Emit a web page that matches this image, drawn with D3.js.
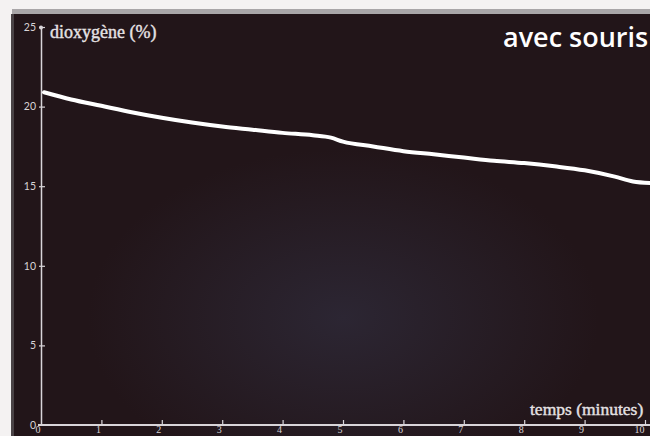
<!DOCTYPE html>
<html><head><meta charset="utf-8">
<script src="https://cdn.jsdelivr.net/npm/d3@7"></script>
<style>html,body{margin:0;padding:0;background:#f4f2f2;overflow:hidden}</style>
</head><body>
<svg id="c" width="650" height="436"></svg>
<script>
const times = [0.05,0.5,1,1.5,2,2.5,3,3.5,4,4.5,4.8,5,5.5,6,6.5,7,7.5,8,8.5,9,9.5,9.8,10.1];
const oxygen = [20.9,20.45,20.05,19.65,19.3,19.0,18.75,18.55,18.35,18.2,18.05,17.8,17.5,17.2,17.0,16.8,16.6,16.45,16.25,16.0,15.6,15.3,15.2];
const xTicks = [0,1,2,3,4,5,6,7,8,9,10];
const yTicks = [0,5,10,15,20,25];
const yTitle = "dioxygène (%)";
const xTitle = "temps (minutes)";
const chartTitle = "avec souris";

const svg = d3.select("#c");
const defs = svg.append("defs");
const rg = defs.append("radialGradient").attr("id","glow").attr("cx","0.52").attr("cy","0.72").attr("r","0.4");
rg.append("stop").attr("offset","0%").attr("stop-color","#2c2633");
rg.append("stop").attr("offset","100%").attr("stop-color","#221519");

// paper edges
svg.append("rect").attr("x",0).attr("y",0).attr("width",650).attr("height",436).attr("fill","#f4f2f2");
svg.append("rect").attr("x",12).attr("y",9).attr("width",638).attr("height",6).attr("fill","#a9a6a8");
svg.append("rect").attr("x",11).attr("y",14).attr("width",639).attr("height",422).attr("fill","url(#glow)");
svg.append("rect").attr("x",11).attr("y",14).attr("width",3).attr("height",422).attr("fill","#4a4346");

const x = d3.scaleLinear().domain([0,10]).range([41,645]);
const y = d3.scaleLinear().domain([0,25]).range([425,27]);
const axisCol = "#d9d5d9";

// y axis
const gy = svg.append("g").attr("transform","translate(41,0)")
  .call(d3.axisLeft(y).tickValues(yTicks).tickSize(0).tickPadding(5));
gy.select(".domain").attr("stroke",axisCol).attr("stroke-width",1.5);
gy.selectAll("text").attr("fill","#d8d4d6").attr("font-family","Lato, 'Open Sans', sans-serif").attr("font-size",10.5);
gy.selectAll(".tick").filter(d=>d>0).append("line").attr("x1",-2).attr("x2",4).attr("stroke",axisCol).attr("stroke-width",1.2);
gy.selectAll(".tick").filter(d=>d===25).append("circle").attr("r",2).attr("fill",axisCol);

// x axis
const gx = svg.append("g").attr("transform","translate(0,425)")
  .call(d3.axisBottom(x).tickValues(xTicks).tickSize(0));
gx.select(".domain").attr("stroke",axisCol).attr("stroke-width",1.8).attr("d","M38,0H650");
gx.selectAll(".tick").filter(d=>d>0).append("line").attr("y1",0).attr("y2",-5).attr("stroke",axisCol).attr("stroke-width",1.2);
gx.selectAll("text").attr("fill","#d8d4d6").attr("font-family","'Liberation Serif', serif").attr("font-size",10)
  .attr("text-anchor","end").attr("x",-1).attr("y",1).attr("dy","0.71em");

// line
const line = d3.line().x((d,i)=>x(times[i])).y(d=>y(d)).curve(d3.curveMonotoneX);
svg.append("path").datum(oxygen).attr("d",line).attr("fill","none").attr("stroke","#ffffff").attr("stroke-width",4).attr("stroke-linecap","round");

// texts
svg.append("text").attr("x",50).attr("y",38).text(yTitle)
  .attr("fill","#e6e2e4").attr("font-family","'Liberation Serif', serif").attr("font-size",18)
  .attr("stroke","#e6e2e4").attr("stroke-width",0.4);
svg.append("text").attr("x",530).attr("y",415).text(xTitle)
  .attr("fill","#e6e2e4").attr("font-family","'Liberation Serif', serif").attr("font-size",17.5)
  .attr("stroke","#e6e2e4").attr("stroke-width",0.4);
svg.append("text").attr("x",503).attr("y",47).text(chartTitle)
  .attr("fill","#ffffff").attr("font-family","'Open Sans', sans-serif").attr("font-weight","600").attr("font-size",27);
</script>
</body></html>
